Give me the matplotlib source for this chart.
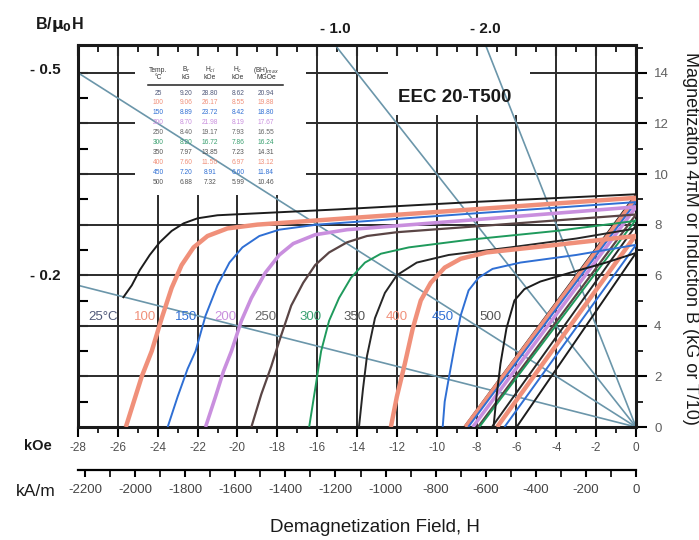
import matplotlib
matplotlib.use('Agg')
import matplotlib.pyplot as plt
from matplotlib.patches import Rectangle

plt.rcParams['font.family'] = ['Liberation Sans', 'DejaVu Sans']
plt.rcParams['axes.unicode_minus'] = False

# ---- data ----
temps = [25, 100, 150, 200, 250, 300, 350, 400, 450, 500]
br = [9.20, 9.06, 8.89, 8.70, 8.40, 8.20, 7.97, 7.60, 7.20, 6.88]
hci = [28.80, 26.17, 23.72, 21.98, 19.17, 16.72, 13.85, 11.56, 8.91, 7.32]
hc = [8.62, 8.55, 8.42, 8.19, 7.93, 7.86, 7.23, 6.97, 6.60, 5.99]
bhmax = [20.94, 19.88, 18.80, 17.67, 16.55, 16.24, 14.31, 13.12, 11.84, 10.46]

# intrinsic curves 4piM(H), kOe / kG
h25 = [-25.75, -25.3, -24.9, -24.4, -23.9, -23.3, -22.7, -22.0, -21.0, -15.0, -8.0, 0.0]
m25 = [5.1, 5.6, 6.2, 6.8, 7.3, 7.75, 8.05, 8.25, 8.37, 8.6, 8.9, 9.2]
h100 = [-25.6, -25.2, -24.8, -24.3, -23.8, -23.3, -22.8, -22.2, -21.5, -20.5, -19.0, -10.0, 0.0]
m100 = [0.0, 1.0, 2.0, 3.0, 4.3, 5.5, 6.4, 7.1, 7.55, 7.85, 8.0, 8.5, 9.06]
h150 = [-23.5, -23.0, -22.5, -22.1, -21.6, -21.0, -20.4, -19.75, -18.9, -17.9, -16.0, -8.0, 0.0]
m150 = [0.0, 1.2, 2.3, 3.0, 4.4, 5.6, 6.5, 7.1, 7.55, 7.8, 8.0, 8.45, 8.89]
h200 = [-21.6, -21.1, -20.7, -20.3, -19.8, -19.3, -18.6, -17.9, -17.2, -16.1, -14.5, -8.0, 0.0]
m200 = [0.0, 1.2, 2.2, 3.0, 4.2, 5.1, 6.1, 6.8, 7.25, 7.6, 7.8, 8.2, 8.7]
h250 = [-19.3, -18.8, -18.3, -17.9, -17.3, -16.7, -16.1, -15.4, -14.5, -13.5, -12.0, -6.0, 0.0]
m250 = [0.0, 1.3, 2.4, 3.4, 4.8, 5.7, 6.4, 6.9, 7.3, 7.55, 7.7, 8.05, 8.4]
h300 = [-16.4, -16.1, -15.8, -15.4, -14.9, -14.3, -13.6, -12.8, -11.4, -8.4, -4.0, 0.0]
m300 = [0.0, 1.5, 3.0, 4.2, 5.1, 5.9, 6.5, 6.85, 7.1, 7.4, 7.75, 8.15]
h350 = [-13.9, -13.7, -13.5, -13.1, -12.6, -12.0, -11.0, -9.4, -6.3, -3.0, 0.0]
m350 = [0.0, 1.5, 2.8, 4.3, 5.3, 6.0, 6.5, 6.8, 7.1, 7.45, 7.85]
h400 = [-12.3, -12.0, -11.6, -11.2, -10.8, -10.3, -9.6, -8.8, -7.5, -4.0, 0.0]
m400 = [0.0, 1.2, 2.5, 3.9, 5.0, 5.7, 6.3, 6.65, 6.9, 7.2, 7.55]
h450 = [-9.7, -9.6, -9.4, -9.1, -8.8, -8.4, -7.9, -7.2, -5.8, -3.0, 0.0]
m450 = [0.0, 1.0, 1.9, 3.2, 4.4, 5.4, 5.9, 6.25, 6.5, 6.8, 7.2]
h500 = [-7.15, -7.0, -6.8, -6.5, -6.1, -5.6, -4.8, -3.3, -1.5, 0.0]
m500 = [0.0, 1.2, 2.5, 3.9, 5.0, 5.45, 5.75, 6.1, 6.5, 6.88]

curves_h = [h25, h100, h150, h200, h250, h300, h350, h400, h450, h500]
curves_m = [m25, m100, m150, m200, m250, m300, m350, m400, m450, m500]

# load lines B/mu0H
permeance = [0.2, 0.5, 1.0, 2.0]

xticks_koe = list(range(-28, 1, 2))
xticks_kam = list(range(-2200, 1, 200))
yticks_b = list(range(0, 15, 2))

# ---- styles ----
colors = ['#1c1c1c', '#f0907a', '#2f6fd4', '#c98fde', '#5a4545',
          '#1f9a5c', '#262626', '#f0907a', '#2f6fd4', '#1c1c1c']
widths = [1.4, 3.2, 1.4, 2.6, 1.6, 1.4, 1.4, 3.2, 1.4, 1.4]
lab_colors = ['#50597a', '#f0907a', '#2f6fd4', '#c98fde', '#666666',
              '#3aa070', '#555555', '#f0907a', '#2f6fd4', '#555555']
load_col = '#6b96aa'

W, HP = 699, 540
L, R, T, B0 = 78, 636, 45, 427


def fx(px):
    return px / W


def fy(py):
    return 1 - py / HP


def axx(px):
    return (px - L) / (R - L)


def axy(py):
    return (B0 - py) / (B0 - T)


fig = plt.figure(figsize=(W / 100, HP / 100), dpi=100)
ax = fig.add_axes([fx(L), fy(B0), (R - L) / W, (B0 - T) / HP])
ax.set_xlim(-28, 0)
ax.set_ylim(0, 15.1)
ax.set_axisbelow(True)

# grid
ax.set_xticks(xticks_koe)
ax.set_xticks(range(-28, 1), minor=True)
ax.set_xticklabels([str(v) for v in xticks_koe])
ax.yaxis.tick_right()
ax.set_yticks(yticks_b)
ax.set_yticks(range(0, 16), minor=True)
ax.grid(True, which='major', color='#2b2b2b', lw=1.4)
ax.tick_params(axis='x', which='major', direction='out', length=7, width=1.5,
               labelsize=8.5, labelcolor='#505050', pad=4)
ax.tick_params(axis='x', which='minor', direction='out', length=4, width=1.2)
ax.tick_params(axis='y', which='major', direction='out', length=8, width=1.5,
               labelsize=9.5, labelcolor='#606060', pad=5)
ax.tick_params(axis='y', which='minor', direction='out', length=5, width=1.2)
for s in ax.spines.values():
    s.set_linewidth(2.2)
    s.set_color('#1a1a1a')

# white boxes behind table and title
for (x0, y0, x1, y1) in [(135, 56, 306, 195), (388, 56, 530, 115)]:
    ax.add_patch(Rectangle((axx(x0), axy(y1)), axx(x1) - axx(x0), axy(y0) - axy(y1),
                           transform=ax.transAxes, facecolor='white',
                           edgecolor='none', zorder=0.8))

# load lines
for p in permeance:
    ax.axline((0, 0), slope=-p, color=load_col, lw=1.2, zorder=2)

# normal curves
for i in range(len(temps)):
    ax.plot([-hc[i], 0], [0, br[i]], color=colors[i], lw=widths[i],
            solid_capstyle='butt', zorder=3)
# intrinsic curves
for i in range(len(temps)):
    ax.plot(curves_h[i], curves_m[i], color=colors[i], lw=widths[i],
            solid_capstyle='butt', zorder=3)

# curve labels
lab_x = [-26.75, -24.65, -22.6, -20.6, -18.6, -16.35, -14.1, -12.0, -9.7, -7.3]
for i, t in enumerate(temps):
    txt = '25°C' if t == 25 else str(t)
    ax.text(lab_x[i], 4.35, txt, color=lab_colors[i], fontsize=9.5,
            ha='center', va='center', zorder=4)

# top ticks (inward)
top = ax.secondary_xaxis('top')
top.set_xticks(xticks_koe)
top.set_xticks(range(-28, 1), minor=True)
top.set_xticklabels([])
top.tick_params(which='major', direction='in', length=8, width=1.5)
top.tick_params(which='minor', direction='in', length=5, width=1.2)

# left ticks (inward)
left = ax.secondary_yaxis('left')
left.set_yticks(range(1, 15))
left.set_yticklabels([])
left.tick_params(which='major', direction='in', length=7, width=1.5)

# kA/m scale
sec = ax.secondary_xaxis(axy(470), functions=(lambda x: x * 79.577, lambda x: x / 79.577))
sec.set_xticks(xticks_kam)
sec.set_xticks(range(-2200, 1, 100), minor=True)
sec.set_xticklabels([str(v) for v in xticks_kam])
sec.tick_params(which='major', direction='out', length=5, width=1.5,
                labelsize=9.5, labelcolor='#444444', pad=5)
sec.tick_params(which='minor', direction='out', length=5, width=1.2)
for s in sec.spines.values():
    s.set_linewidth(1.6)

# table
col_x = [158, 186, 210, 238, 266]
hdr1 = ['Temp.', 'B$_r$', 'H$_{ci}$', 'H$_c$', '(BH)$_{max}$']
hdr2 = ['°C', 'kG', 'kOe', 'kOe', 'MGOe']
for j in range(5):
    fig.text(fx(col_x[j]), fy(70), hdr1[j], fontsize=4.8, ha='center', va='center', color='#333')
    fig.text(fx(col_x[j]), fy(78), hdr2[j], fontsize=4.8, ha='center', va='center', color='#333')
fig.add_artist(plt.Line2D([fx(148), fx(283)], [fy(85), fy(85)], color='#222', lw=1.1))
for i, t in enumerate(temps):
    vals = [str(t), '%.2f' % br[i], '%.2f' % hci[i], '%.2f' % hc[i], '%.2f' % bhmax[i]]
    for j in range(5):
        fig.text(fx(col_x[j]), fy(93 + 10 * i), vals[j], fontsize=4.8,
                 ha='center', va='center', color=lab_colors[i])

# labels
fig.text(fx(455), fy(97), 'EEC 20-T500', fontsize=13.5, fontweight='bold',
         ha='center', va='center', color='#1a1a1a')
fig.text(fx(35), fy(24), r'B/$\mathbf{\mu_0}$H', fontsize=11.5, fontweight='bold',
         ha='left', va='center', color='#1a1a1a')
fig.text(fx(45), fy(70), '- 0.5', fontsize=11, fontweight='bold', ha='center', va='center', color='#1a1a1a')
fig.text(fx(45), fy(276), '- 0.2', fontsize=11, fontweight='bold', ha='center', va='center', color='#1a1a1a')
fig.text(fx(335), fy(29), '- 1.0', fontsize=11, fontweight='bold', ha='center', va='center', color='#1a1a1a')
fig.text(fx(485), fy(29), '- 2.0', fontsize=11, fontweight='bold', ha='center', va='center', color='#1a1a1a')
fig.text(fx(38), fy(446), 'kOe', fontsize=10.5, fontweight='bold', ha='center', va='center', color='#1a1a1a')
fig.text(fx(36), fy(492), 'kA/m', fontsize=12.5, ha='center', va='center', color='#1a1a1a')
fig.text(fx(375), fy(527), 'Demagnetization Field, H', fontsize=13.5, ha='center',
         va='center', color='#1a1a1a')
fig.text(fx(690), fy(238), 'Magnetization 4\u03c0M or Induction B (kG or T/10)',
         fontsize=13, rotation=-90, ha='center', va='center', color='#1a1a1a')

fig.savefig('out.png', dpi=100)
